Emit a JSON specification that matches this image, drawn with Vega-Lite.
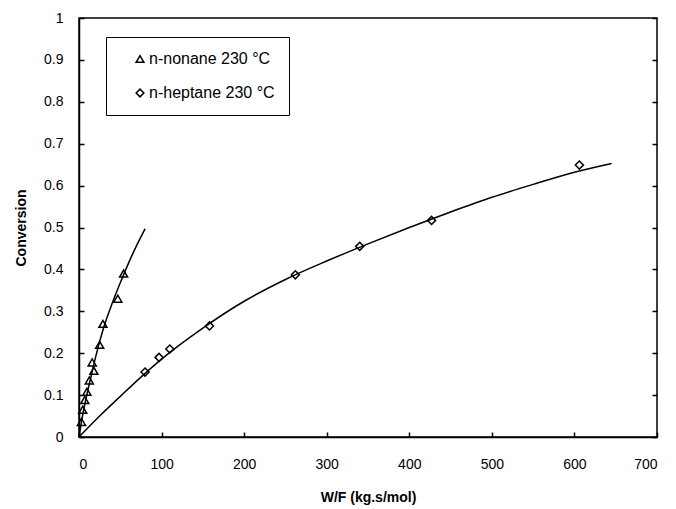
{
  "$schema": "https://vega.github.io/schema/vega-lite/v6.json",
  "autosize": {"type": "none"},
  "width": 578,
  "height": 419,
  "padding": {"left": 79, "top": 18, "right": 19, "bottom": 72},
  "background": "white",
  "config": {
    "font": "Liberation Sans",
    "view": {"stroke": "black", "strokeWidth": 1.5},
    "axis": {"grid": false, "domainColor": "black", "domainWidth": 1.5, "tickColor": "black", "tickWidth": 1.5, "labelColor": "black", "titleColor": "black", "labelFont": "Liberation Sans", "titleFont": "Liberation Sans", "labelFontSize": 14, "titleFontSize": 14, "titleFontWeight": "bold"}
  },
  "datasets": {
    "pts": [
      {"series": "n-nonane 230 °C", "x": 3, "y": 0.036},
      {"series": "n-nonane 230 °C", "x": 4.5, "y": 0.065},
      {"series": "n-nonane 230 °C", "x": 7, "y": 0.088},
      {"series": "n-nonane 230 °C", "x": 9.5, "y": 0.108},
      {"series": "n-nonane 230 °C", "x": 12.5, "y": 0.135},
      {"series": "n-nonane 230 °C", "x": 18, "y": 0.158},
      {"series": "n-nonane 230 °C", "x": 16, "y": 0.178},
      {"series": "n-nonane 230 °C", "x": 25, "y": 0.22},
      {"series": "n-nonane 230 °C", "x": 29, "y": 0.27},
      {"series": "n-nonane 230 °C", "x": 47, "y": 0.33},
      {"series": "n-nonane 230 °C", "x": 54, "y": 0.39},
      {"series": "n-heptane 230 °C", "x": 80, "y": 0.155},
      {"series": "n-heptane 230 °C", "x": 97, "y": 0.19},
      {"series": "n-heptane 230 °C", "x": 110, "y": 0.21},
      {"series": "n-heptane 230 °C", "x": 158, "y": 0.265},
      {"series": "n-heptane 230 °C", "x": 262, "y": 0.387},
      {"series": "n-heptane 230 °C", "x": 340, "y": 0.455},
      {"series": "n-heptane 230 °C", "x": 427, "y": 0.517},
      {"series": "n-heptane 230 °C", "x": 606, "y": 0.649}
    ],
    "fit": [
      {"series": "nonane", "x": 0, "y": 0},
      {"series": "nonane", "x": 5, "y": 0.058},
      {"series": "nonane", "x": 10, "y": 0.105},
      {"series": "nonane", "x": 15, "y": 0.148},
      {"series": "nonane", "x": 20, "y": 0.19},
      {"series": "nonane", "x": 30, "y": 0.262},
      {"series": "nonane", "x": 40, "y": 0.318},
      {"series": "nonane", "x": 50, "y": 0.368},
      {"series": "nonane", "x": 60, "y": 0.415},
      {"series": "nonane", "x": 70, "y": 0.458},
      {"series": "nonane", "x": 80, "y": 0.497},
      {"series": "heptane", "x": 0, "y": 0},
      {"series": "heptane", "x": 25, "y": 0.05},
      {"series": "heptane", "x": 50, "y": 0.097},
      {"series": "heptane", "x": 75, "y": 0.143},
      {"series": "heptane", "x": 100, "y": 0.186},
      {"series": "heptane", "x": 150, "y": 0.26},
      {"series": "heptane", "x": 200, "y": 0.324},
      {"series": "heptane", "x": 250, "y": 0.376},
      {"series": "heptane", "x": 300, "y": 0.42},
      {"series": "heptane", "x": 350, "y": 0.461},
      {"series": "heptane", "x": 400, "y": 0.5},
      {"series": "heptane", "x": 450, "y": 0.537},
      {"series": "heptane", "x": 500, "y": 0.572},
      {"series": "heptane", "x": 550, "y": 0.603},
      {"series": "heptane", "x": 600, "y": 0.632},
      {"series": "heptane", "x": 645, "y": 0.653}
    ]
  },
  "layer": [
    {
      "data": {"name": "fit"},
      "mark": {"type": "line", "color": "black", "strokeWidth": 1.5, "interpolate": "monotone"},
      "encoding": {
        "x": {"field": "x", "type": "quantitative", "scale": {"domain": [0, 700], "nice": false},
              "axis": {"values": [0,100,200,300,400,500,600,700], "tickSize": -5, "labelPadding": 25, "title": "W/F (kg.s/mol)", "titleY": 60, "titleBaseline": "middle"}},
        "y": {"field": "y", "type": "quantitative", "scale": {"domain": [0, 1], "nice": false},
              "axis": {"values": [0,0.1,0.2,0.3,0.4,0.5,0.6,0.7,0.8,0.9,1], "tickSize": -5, "labelPadding": 21, "title": "Conversion", "titleX": -58, "titleBaseline": "middle", "labelExpr": "datum.value == 0 ? '0' : datum.value == 1 ? '1' : format(datum.value, '.1f')"}},
        "detail": {"field": "series"}
      }
    },
    {
      "data": {"name": "pts"},
      "mark": {"type": "point", "filled": false, "color": "black", "strokeWidth": 1.5, "opacity": 1},
      "encoding": {
        "x": {"field": "x", "type": "quantitative"},
        "y": {"field": "y", "type": "quantitative", "axis": {"orient": "right", "labels": false, "title": null, "tickSize": -5, "domain": false, "values": [0,0.1,0.2,0.3,0.4,0.5,0.6,0.7,0.8,0.9,1]}},
        "shape": {"field": "series", "type": "nominal",
                  "scale": {"domain": ["n-nonane 230 °C", "n-heptane 230 °C"], "range": ["triangle-up", "diamond"]},
                  "legend": {"title": null, "orient": "none", "legendX": 27, "legendY": 19, "strokeColor": "black", "padding": 14, "symbolOffset": 12, "rowPadding": 18, "labelFontSize": 16, "labelColor": "black", "labelFont": "Liberation Sans", "labelOffset": 1, "labelLimit": 300, "symbolStrokeColor": "black", "symbolFillColor": "transparent", "symbolStrokeWidth": 1.5, "symbolSize": 60, "fillColor": "white",
                             "encode": {"legend": {"update": {"strokeWidth": {"value": 1.5}}}}}},
        "size": {"value": 65}
      }
    }
  ],
  "resolve": {"axis": {"y": "independent"}}
}
